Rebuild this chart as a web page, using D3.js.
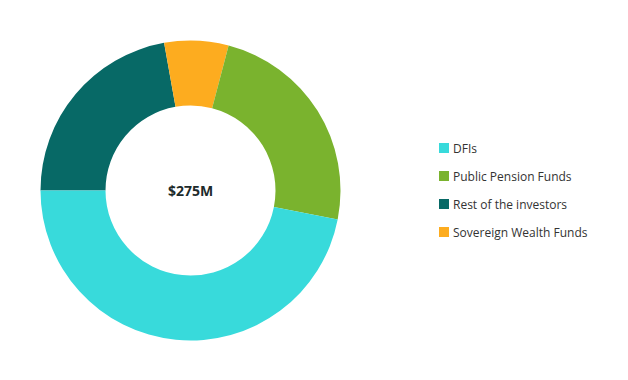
<!DOCTYPE html>
<html>
<head>
<meta charset="utf-8">
<script src="https://cdn.jsdelivr.net/npm/d3@7"></script>
<style>
  body { margin: 0; background: #fff; }
  svg { display: block; font-family: "Open Sans", sans-serif; }
</style>
</head>
<body>
<svg id="chart"></svg>
<script>
// investor groups, in legend order
var categories = ["DFIs", "Public Pension Funds", "Rest of the investors", "Sovereign Wealth Funds"];
var values = [129, 66, 61, 19]; // $M, total 275
var colors = ["#38dadb", "#7ab32e", "#076966", "#fdac1f"];
// order slices are laid clockwise, starting at 9 o'clock
var sliceOrder = ["Rest of the investors", "Sovereign Wealth Funds", "Public Pension Funds", "DFIs"];
var centerLabel = "$275M";

var width = 628, height = 380;
var cx = 190.5, cy = 190.5;
var outerR = 150, innerR = 85;

var svg = d3.select("#chart").attr("width", width).attr("height", height);

var color = d3.scaleOrdinal().domain(categories).range(colors);

var data = sliceOrder.map(function (c) {
    return { name: c, value: values[categories.indexOf(c)] };
});

var pie = d3.pie()
    .sort(null)
    .value(function (d) { return d.value; })
    .startAngle(-Math.PI / 2)
    .endAngle(Math.PI * 1.5);

var arc = d3.arc().innerRadius(innerR).outerRadius(outerR);

var g = svg.append("g").attr("transform", "translate(" + cx + "," + cy + ")");

g.selectAll("path")
    .data(pie(data))
    .enter()
    .append("path")
    .attr("d", arc)
    .attr("fill", function (d) { return color(d.data.name); });

g.append("text")
    .attr("text-anchor", "middle")
    .attr("y", 5)
    .attr("font-size", 14)
    .attr("font-weight", "bold")
    .attr("fill", "#1d2b2b")
    .text(centerLabel);

// legend
var legend = svg.append("g").attr("transform", "translate(439,143)");
var rows = legend.selectAll("g")
    .data(categories)
    .enter()
    .append("g")
    .attr("transform", function (d, i) { return "translate(0," + (i * 28) + ")"; });

rows.append("rect")
    .attr("width", 10)
    .attr("height", 10)
    .attr("fill", function (d) { return color(d); });

rows.append("text")
    .attr("x", 14)
    .attr("y", 9.5)
    .attr("font-size", 12)
    .attr("fill", "#333")
    .text(function (d) { return d; });
</script>
</body>
</html>
